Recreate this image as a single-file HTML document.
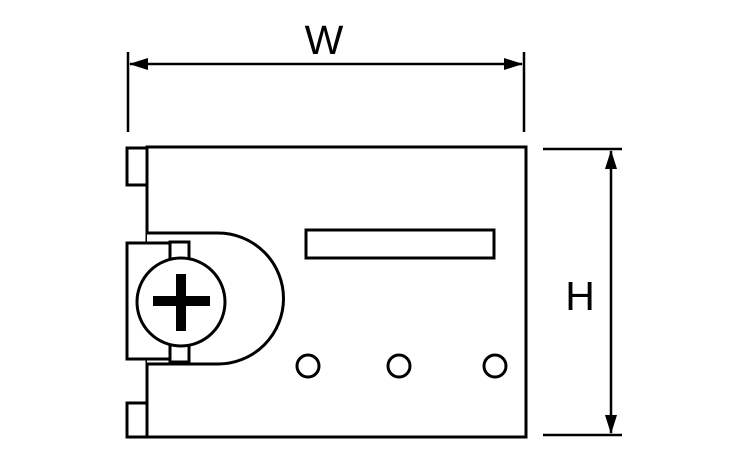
<!DOCTYPE html>
<html><head><meta charset="utf-8"><style>html,body{margin:0;padding:0;background:#fff}</style></head>
<body>
<svg width="750" height="450" viewBox="0 0 750 450" xmlns="http://www.w3.org/2000/svg">
<g fill="none" stroke="#000" stroke-width="3">
  <!-- main plate -->
  <rect x="147" y="147" width="379" height="290"/>
  <!-- tabs -->
  <rect x="127" y="148" width="20" height="37"/>
  <rect x="127" y="403" width="20" height="34"/>
  <!-- D shape -->
  <path d="M147 233 H218 A65 65 0 0 1 218 364 H147" fill="#fff"/>
  <!-- left housing -->
  <rect x="127" y="243" width="54" height="116" fill="#fff"/>
  <rect x="170" y="242" width="19" height="18" fill="#fff"/>
  <rect x="170" y="345" width="19" height="17" fill="#fff"/>
  <circle cx="181" cy="302" r="44" fill="#fff"/>
  <!-- slot -->
  <rect x="306" y="230" width="188" height="28"/>
  <!-- holes -->
  <circle cx="308" cy="366" r="11"/>
  <circle cx="399" cy="366" r="11"/>
  <circle cx="495" cy="366" r="11"/>
  <!-- dimension lines -->
  <g stroke-width="2.5">
    <line x1="128" y1="52" x2="128" y2="132"/>
    <line x1="524" y1="52" x2="524" y2="132"/>
    <line x1="130" y1="64" x2="522" y2="64"/>
    <line x1="543" y1="149" x2="622" y2="149"/>
    <line x1="543" y1="435" x2="622" y2="435"/>
    <line x1="611" y1="151" x2="611" y2="433"/>
  </g>
</g>
<!-- plus -->
<rect x="153" y="296" width="57" height="10" fill="#000"/>
<rect x="176" y="274" width="10" height="57" fill="#000"/>
<!-- arrowheads -->
<g fill="#000">
  <polygon points="129,64 148,58 148,70"/>
  <polygon points="523,64 504,58 504,70"/>
  <polygon points="611,150 605,169 617,169"/>
  <polygon points="611,434 605,415 617,415"/>
</g>
<text x="324" y="54" font-family="Liberation Sans, sans-serif" font-size="41" text-anchor="middle">W</text>
<text x="580" y="310" font-family="Liberation Sans, sans-serif" font-size="41" text-anchor="middle">H</text>
</svg>
</body></html>
